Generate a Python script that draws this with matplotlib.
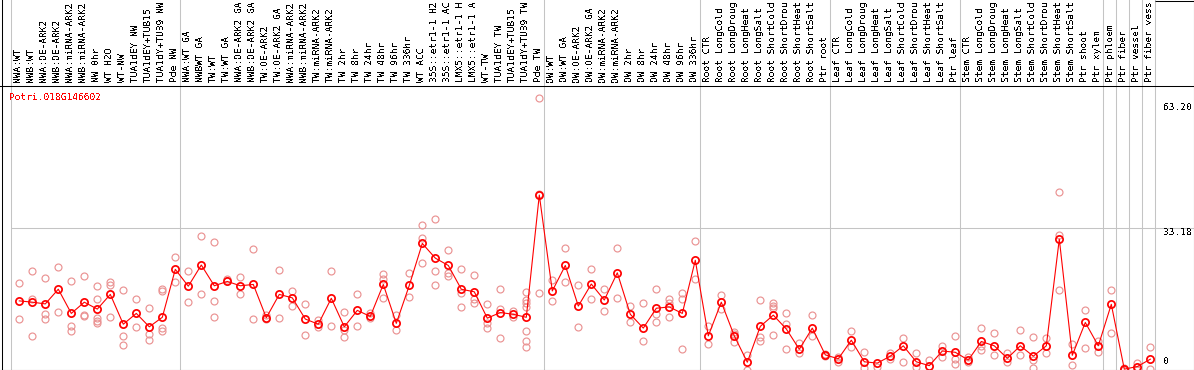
import matplotlib
matplotlib.use("Agg")
import matplotlib.pyplot as plt

plt.rcParams["text.antialiased"] = False

# ---------------- data ----------------
# labels as shown in the chart header (the header cuts them at 14 characters)
sample_labels = [
    "NWA:WT", "NWB:WT", "NWA:OE-ARK2", "NWB:OE-ARK2", "NWA:miRNA-ARK2", "NWB:miRNA-ARK2",
    "NW 0hr", "WT H2O", "WT-NW", "TUA1dEY NW", "TUA1dEY+TUB15", "TUA1dY+TUB9 NW", "Pde NW",
    "NWA:WT GA", "NWBWT GA", "TW:WT", "TW:WT GA", "NWA:OE-ARK2 GA", "NWB:OE-ARK2 GA",
    "TW:OE-ARK2", "TW:OE-ARK2 GA", "NWA:miRNA-ARK2", "NWB:miRNA-ARK2", "TW:miRNA-ARK2",
    "TW:miRNA-ARK2", "TW 2hr", "TW 8hr", "TW 24hr", "TW 48hr", "TW 96hr", "TW 336hr", "WT ACC",
    "35S::etr1-1 H2", "35S::etr1-1 AC", "LMX5::etr1-1 H", "LMX5::etr1-1 A", "WT-TW",
    "TUA1dEY TW", "TUA1dEY+TUB15", "TUA1dY+TUB9 TW", "Pde TW",
    "OW:WT", "OW:WT GA", "OW:OE-ARK2", "OW:OE-ARK2 GA", "OW:miRNA-ARK2", "OW:miRNA-ARK2",
    "OW 2hr", "OW 8hr", "OW 24hr", "OW 48hr", "OW 96hr", "OW 336hr",
    "Root CTR", "Root LongCold", "Root LongDroug", "Root LongHeat", "Root LongSalt",
    "Root ShortCold", "Root ShortDrou", "Root ShortHeat", "Root ShortSalt", "Ptr root",
    "Leaf CTR", "Leaf LongCold", "Leaf LongDroug", "Leaf LongHeat", "Leaf LongSalt",
    "Leaf ShortCold", "Leaf ShortDrou", "Leaf ShortHeat", "Leaf ShortSalt", "Ptr leaf",
    "Stem CTR", "Stem LongCold", "Stem LongDroug", "Stem LongHeat", "Stem LongSalt",
    "Stem ShortCold", "Stem ShortDrou", "Stem ShortHeat", "Stem ShortSalt", "Ptr shoot",
    "Ptr xylem", "Ptr phloem", "Ptr fiber", "Ptr vessel", "Ptr fiber vess",
]

mean_values = [
    16.3, 16.0, 15.6, 19.0, 13.4, 16.0, 14.4, 17.8, 10.9, 13.4, 10.3, 12.5, 23.6,
    19.7, 24.6, 19.8, 20.8, 19.8, 20.1, 12.4, 17.8, 17.0, 12.1, 10.9, 16.9, 10.3, 14.1,
    12.7, 20.1, 11.1, 19.9, 29.6, 26.2, 24.5, 19.0, 18.4, 12.3, 13.6, 13.2, 12.5, 40.8,
    18.6, 24.5, 15.1, 20.2, 16.5, 22.8, 13.2, 10.0, 14.6, 14.9, 13.4, 25.7,
    8.2, 16.0, 8.2, 2.1, 10.4, 13.0, 9.8, 5.1, 10.0, 3.8,
    2.9, 7.2, 2.2, 1.9, 3.5, 5.9, 2.2, 1.3, 4.7, 4.4,
    2.6, 6.9, 5.9, 3.0, 5.9, 3.5, 5.9, 30.6, 3.7, 11.3, 5.9,
    15.5, 0.5, 1.1, 2.8,
]

replicate_values = [
    [20.4, 12.0], [23.2, 16.7, 8.2], [21.5, 13.3, 12.1], [24.1, 13.7], [20.9, 10.5, 9.3],
    [22.0, 13.0, 12.8], [19.7, 16.7, 12.3, 11.7, 11.1], [20.7, 20.0, 12.6], [18.8, 8.2, 6.1],
    [16.7, 10.2], [14.6, 8.6, 7.2], [19.0, 18.7, 10.0, 9.3], [26.4, 20.6],
    [23.2, 16.0], [31.3, 17.8], [29.9, 16.2, 12.6], [21.3, 20.9], [21.8, 17.9], [28.2, 12.1],
    [12.1, 13.0], [23.4, 12.4], [18.6, 15.2], [15.5, 8.4], [10.2, 11.9], [23.2, 10.5],
    [13.7, 9.6, 7.9], [17.8, 10.5], [13.4, 12.3], [22.5, 21.4, 16.9], [13.0, 9.6],
    [22.8, 17.1], [33.8, 30.8, 25.0], [35.2, 23.2, 19.9], [28.0, 22.8, 22.1],
    [23.6, 18.2, 15.0], [22.3, 16.7, 15.7], [15.5, 11.1, 10.1], [19.0, 14.4, 7.8],
    [14.0, 12.6], [18.4, 16.5, 15.7, 15.0, 9.3, 6.9, 5.7], [63.2, 41.1, 18.1],
    [21.1, 16.2], [28.5, 20.7], [20.0, 10.2], [23.6, 16.7], [19.0, 13.9], [28.5, 17.0],
    [15.1, 11.3], [15.8, 6.9], [19.0, 13.2, 11.3], [16.7, 15.9, 12.5], [18.1, 16.7, 5.1],
    [30.1, 21.3],
    [10.5, 6.3], [17.6, 14.5], [9.2, 8.6, 6.8], [3.7, 0.3], [16.5, 8.0, 6.9],
    [15.9, 15.1, 14.6, 8.3], [13.4, 10.9, 5.2], [6.5, 4.2], [13.0, 8.2], [4.0, 3.6],
    [3.4, 2.2], [9.3, 5.6], [4.5, 0.7], [1.1], [4.2, 2.8], [7.8, 2.1], [4.2, 1.1], [2.6],
    [5.9, 3.2], [8.2, 2.8, 1.7],
    [3.4, 2.2], [10.0, 5.9, 4.9], [8.8, 3.8], [4.2, 2.1], [9.6, 3.8], [7.9, 2.6, 0.7],
    [7.8, 4.2], [41.5, 31.6, 18.8], [6.3, 1.5], [14.2, 5.3], [6.9, 4.5],
    [18.8, 8.8], [0.2, 0.8], [1.9, 0.4], [5.7, 0.5],
]

# index of the last sample of each group (-1 = before the first one)
group_ends = [-1, 12, 40, 52, 62, 72, 83, 84, 85, 86, 87]
gene_id = "Potri.018G146602"
y_tick_labels = ["63.20", "33.18", "0"]
grid_value = 33.18

# ---------------- layout ----------------
W, H, DPI = 1194, 370, 100
X0, DX = 19.3, 13.0          # pixel x of first sample, pixel spacing
Y_ZERO, PPU = 371.3, 4.32    # pixel y of value 0, pixels per unit

RED = "#FF0000"
PINK = "#EA9393"
GRAY = "#C4C4C4"
FONT = "DejaVu Sans Mono"
FS = 6.8


def px_x(p):
    return (p - X0) / DX


def px_y(p):
    return (Y_ZERO - p) / PPU


fig = plt.figure(figsize=(W / DPI, H / DPI), dpi=DPI)
fig.patch.set_facecolor("white")
ax = fig.add_axes([0, 0, 1, 1])
ax.set_xlim(px_x(0), px_x(W))
ax.set_ylim(px_y(H), px_y(0))
ax.axis("off")

# group separators (full height)
for k in group_ends:
    ax.axvline(k + 0.36, color=GRAY, lw=0.75, zorder=1)

# grid line
ax.hlines(grid_value, px_x(10.7), px_x(W), color=GRAY, lw=0.75, zorder=1)

# frame lines
ax.axhline(px_y(85.5), color="black", lw=0.75, zorder=5)
ax.axhline(px_y(369.5), color="black", lw=0.75, zorder=5)
ax.axvline(px_x(1.5), color="black", lw=0.75, zorder=5)
ax.axvline(px_x(1193.5), color="black", lw=0.75, zorder=5)
ax.hlines(px_y(0.5), px_x(1155), px_x(W), color="black", lw=0.75, zorder=5)

# replicates
for i, reps in enumerate(replicate_values):
    ax.plot([i] * len(reps), reps, linestyle="none", marker="o", mfc="none",
            mec=PINK, ms=5.0, mew=0.85, zorder=2)

xs = list(range(len(mean_values)))
ax.plot(xs, mean_values, color=RED, lw=0.8, zorder=3)
ax.plot(xs, mean_values, linestyle="none", marker="o", mfc="none", mec=RED,
        ms=5.2, mew=1.25, zorder=4)

# sample labels (header)
for i, lab in enumerate(sample_labels):
    ax.text(i - 1.0 / DX, px_y(82), lab, rotation=90, ha="center", va="bottom",
            fontsize=FS, family=FONT, color="black", zorder=6)

# gene id
ax.text(px_x(9.3), px_y(97), gene_id, ha="left", va="center", fontsize=FS,
        family=FONT, color=RED, zorder=6)

# y tick labels (right side)
for lab, py in zip(y_tick_labels, [107, 232, 362]):
    ax.text(px_x(1163), px_y(py), lab, ha="left", va="center", fontsize=FS,
            family=FONT, color="black", zorder=6)

fig.savefig("out.png", dpi=DPI, facecolor="white")
